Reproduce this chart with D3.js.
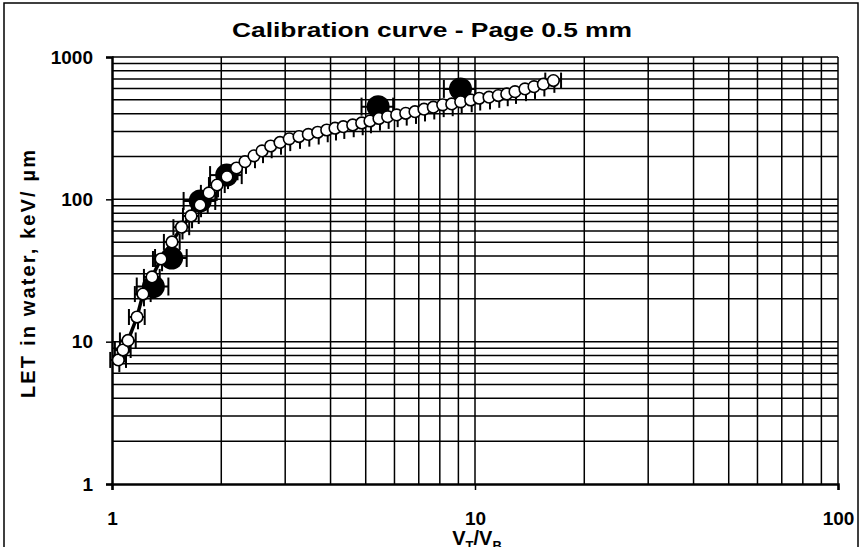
<!DOCTYPE html>
<html>
<head>
<meta charset="utf-8">
<script src="https://cdn.jsdelivr.net/npm/d3@7"></script>
<style>
  html, body { margin: 0; padding: 0; background: #fff; }
  svg { display: block; }
  text { font-family: "Liberation Sans", Arial, sans-serif; font-weight: bold; fill: #000; }
</style>
</head>
<body>
<svg id="chart" width="862" height="547"></svg>
<script>
// ---- Data ----
const title = "Calibration curve - Page 0.5 mm";
const yLabel = "LET in water, keV/  \u00B5m";
const xTicks = [1, 10, 100];
const yTicks = [1, 10, 100, 1000];

// Open-circle series (calibration curve), V_T/V_B and LET
const curveX = [1.041, 1.072, 1.107, 1.172, 1.217, 1.289, 1.365, 1.463, 1.554, 1.651,
  1.748, 1.850, 1.947, 2.074, 2.203, 2.325, 2.461, 2.590, 2.736, 2.903,
  3.078, 3.275, 3.474, 3.687, 3.904, 4.115, 4.337, 4.604, 4.874, 5.136,
  5.438, 5.746, 6.085, 6.444, 6.834, 7.236, 7.675, 8.147, 8.627, 9.133,
  9.731, 10.27, 10.93, 11.59, 12.23, 12.89, 13.73, 14.54, 15.43, 16.44];
const curveY = [7.44, 8.74, 10.2, 14.9, 21.6, 28.5, 38.1, 50.2, 63.7, 76.4,
  91.3, 111, 126, 144, 166, 184, 202, 219, 237, 251,
  266, 276, 286, 296, 307, 316, 324, 333, 344, 355,
  370, 381, 392, 402, 413, 430, 444, 461, 468, 484,
  499, 513, 522, 536, 550, 571, 597, 619, 644, 683];
// relative errors of the open series: V_T/V_B (both sides) and LET (minus side)
const curveErrX = [0.05, 0.05, 0.05, 0.05, 0.05, 0.05, 0.05, 0.05, 0.05, 0.05,
  0.05, 0.05, 0.05, 0, 0, 0, 0, 0, 0, 0,
  0, 0, 0, 0, 0, 0, 0, 0, 0, 0,
  0, 0, 0, 0, 0, 0, 0, 0, 0, 0,
  0, 0, 0, 0, 0, 0, 0, 0, 0, 0.05];
const curveErrYminus = 0.18;

// Filled-circle series (measured ions)
const ionX = [1.30, 1.46, 1.75, 2.07, 5.41, 9.12];
const ionY = [24.4, 38.7, 97.4, 148, 448, 597];
const ionErrX = 0.10;
const ionErrY = 0.10;

// ---- Layout ----
const svg = d3.select("#chart");
const L = 112, R = 838, T = 57, B = 484;
const x = d3.scaleLog().domain([1, 100]).range([L, R]);
const y = d3.scaleLog().domain([1, 1000]).range([B, T]);

// outer border
svg.append("rect").attr("x", 4).attr("y", 3).attr("width", 854).attr("height", 560)
  .attr("fill", "none").attr("stroke", "#000").attr("stroke-width", 1.5);

// gridlines
const xGrid = [];
for (let d = 1; d <= 10; d *= 10) for (let k = 2; k <= 10; k++) xGrid.push(k * d);
const yGrid = [];
for (let d = 1; d <= 100; d *= 10) for (let k = 2; k <= 10; k++) yGrid.push(k * d);

svg.append("g").selectAll("line").data(xGrid).join("line")
  .attr("x1", d => x(d)).attr("x2", d => x(d)).attr("y1", T).attr("y2", B)
  .attr("stroke", "#000").attr("stroke-width", 1.5);
svg.append("g").selectAll("line").data(yGrid).join("line")
  .attr("x1", L).attr("x2", R).attr("y1", d => y(d)).attr("y2", d => y(d))
  .attr("stroke", "#000").attr("stroke-width", 1.5);

// axes
const fmt = d3.format("d");
const gx = svg.append("g").attr("transform", `translate(0,${B})`)
  .call(d3.axisBottom(x).tickValues(xTicks).tickFormat(fmt).tickSize(6).tickPadding(22));
const gy = svg.append("g").attr("transform", `translate(${L},0)`)
  .call(d3.axisLeft(y).tickValues(yTicks).tickFormat(fmt).tickSize(6).tickPadding(13));
[gx, gy].forEach(g => {
  g.select(".domain").attr("stroke", "#000").attr("stroke-width", 2.5);
  g.selectAll(".tick line").attr("stroke", "#000").attr("stroke-width", 1.5);
  g.selectAll(".tick text").attr("font-family", "Liberation Sans, Arial, sans-serif")
    .attr("font-weight", "bold").attr("font-size", 19).attr("fill", "#000");
});

// ---- Filled series with error bars ----
const ions = ionX.map((v, i) => ({ x: v, y: ionY[i] }));
const gi = svg.append("g");
ions.forEach(d => {
  const cx = x(d.x), cy = y(d.y);
  const x0 = x(d.x * (1 - ionErrX)), x1 = x(d.x * (1 + ionErrX));
  const y0 = y(d.y * (1 - ionErrY)), y1 = y(d.y * (1 + ionErrY));
  gi.append("line").attr("x1", x0).attr("x2", x1).attr("y1", cy).attr("y2", cy);
  gi.append("line").attr("x1", x0).attr("x2", x0).attr("y1", cy - 9).attr("y2", cy + 9);
  gi.append("line").attr("x1", x1).attr("x2", x1).attr("y1", cy - 9).attr("y2", cy + 9);
  gi.append("line").attr("x1", cx).attr("x2", cx).attr("y1", y0).attr("y2", y1);
});
gi.selectAll("line").attr("stroke", "#000").attr("stroke-width", 2);
gi.selectAll("circle").data(ions).join("circle")
  .attr("cx", d => x(d.x)).attr("cy", d => y(d.y)).attr("r", 11.5).attr("fill", "#000");

// ---- Open series ----
const curve = curveX.map((v, i) => ({ x: v, y: curveY[i], ex: curveErrX[i] }));
const ge = svg.append("g");
curve.forEach(d => {
  const cx = x(d.x), cy = y(d.y);
  ge.append("line").attr("x1", cx + 1).attr("x2", cx + 1)
    .attr("y1", cy).attr("y2", y(d.y * (1 - curveErrYminus)));
  if (d.ex > 0) {
    const x0 = x(d.x * (1 - d.ex)), x1 = x(d.x * (1 + d.ex));
    ge.append("line").attr("x1", x0).attr("x2", x1).attr("y1", cy).attr("y2", cy);
    ge.append("line").attr("x1", x0).attr("x2", x0).attr("y1", cy - 8).attr("y2", cy + 8);
    ge.append("line").attr("x1", x1).attr("x2", x1).attr("y1", cy - 8).attr("y2", cy + 8);
  }
});
ge.selectAll("line").attr("stroke", "#000").attr("stroke-width", 2);
svg.append("path").datum(curve)
  .attr("d", d3.line().x(d => x(d.x)).y(d => y(d.y)))
  .attr("fill", "none").attr("stroke", "#000").attr("stroke-width", 3.5);
svg.append("g").selectAll("circle").data(curve).join("circle")
  .attr("cx", d => x(d.x)).attr("cy", d => y(d.y)).attr("r", 5.8)
  .attr("fill", "#fff").attr("stroke", "#000").attr("stroke-width", 1.6);

// ---- Titles ----
svg.append("text").attr("x", 432).attr("y", 37).attr("text-anchor", "middle")
  .attr("font-size", 21).attr("textLength", 400).attr("lengthAdjust", "spacingAndGlyphs").text(title);

svg.append("text").attr("transform", "translate(35,274) rotate(-90)")
  .attr("text-anchor", "middle").attr("font-size", 20)
  .attr("textLength", 248).attr("lengthAdjust", "spacing").text(yLabel);

const xl = svg.append("text").attr("x", 477).attr("y", 545).attr("text-anchor", "middle")
  .attr("font-size", 20);
xl.append("tspan").text("V");
xl.append("tspan").attr("font-size", 13).attr("dy", 5).text("T");
xl.append("tspan").attr("dy", -5).text("/V");
xl.append("tspan").attr("font-size", 13).attr("dy", 5).text("B");
</script>
</body>
</html>
